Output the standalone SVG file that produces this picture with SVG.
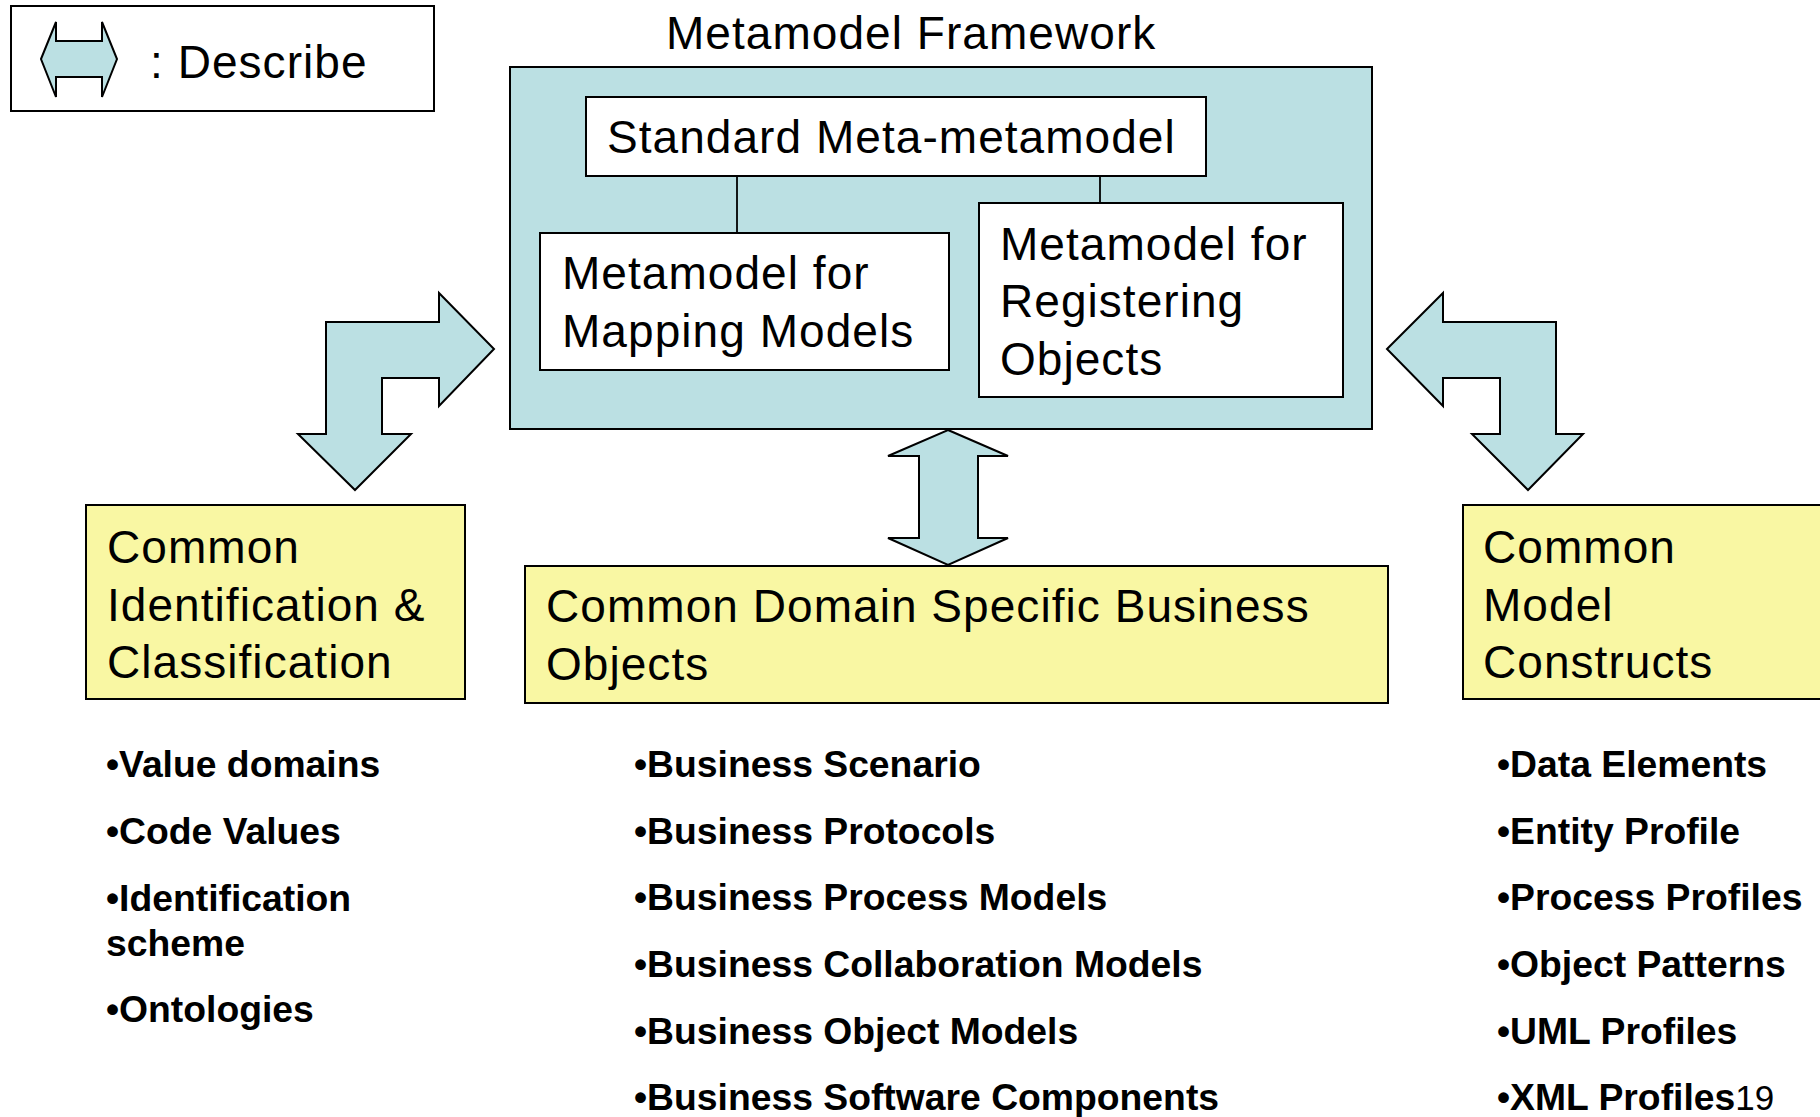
<svg xmlns="http://www.w3.org/2000/svg" width="1820" height="1117" viewBox="0 0 1820 1117">
<style>
.big{font-family:"Liberation Sans",Arial,sans-serif;font-size:46px;letter-spacing:1.05px;fill:#000}
.bul{font-family:"Liberation Sans",Arial,sans-serif;font-size:37.3px;font-weight:bold;fill:#000}
.box{stroke:#000;stroke-width:2}
.blue{fill:#BBE0E3}
.white{fill:#FFFFFF}
.yellow{fill:#F9F7A3}
.arrow{fill:#BBE0E3;stroke:#000;stroke-width:2;stroke-linejoin:miter}
.line{stroke:#000;stroke-width:1.8;fill:none}
</style>
<rect x="0" y="0" width="1820" height="1117" fill="#FFFFFF"/>
<g id="legend">
<rect class="box white" x="11" y="6" width="423" height="105"/>
<polygon class="arrow" points="41,59 56,22 56,41 102,41 102,22 117,59 102,97 102,77 56,77 56,97"/>
<text class="big" x="150" y="78">: Describe</text>
</g>
<text id="title" class="big" x="666" y="49">Metamodel Framework</text>
<g id="framework">
<rect class="box blue" x="510" y="67" width="862" height="362"/>
</g>
<g id="meta-metamodel">
<rect class="box white" x="586" y="97" width="620" height="79"/>
<text class="big" x="607" y="153">Standard Meta-metamodel</text>
</g>
<g id="mapping">
<rect class="box white" x="540" y="233" width="409" height="137"/>
<text class="big" x="562" y="289">Metamodel for</text>
<text class="big" x="562" y="347">Mapping Models</text>
</g>
<g id="registering">
<rect class="box white" x="979" y="203" width="364" height="194"/>
<text class="big" x="1000" y="260">Metamodel for</text>
<text class="big" x="1000" y="317">Registering</text>
<text class="big" x="1000" y="375">Objects</text>
</g>
<g id="identification">
<rect class="box yellow" x="86" y="505" width="379" height="194"/>
<text class="big" x="107" y="563">Common</text>
<text class="big" x="107" y="621">Identification &amp;</text>
<text class="big" x="107" y="678">Classification</text>
</g>
<g id="business-objects">
<rect class="box yellow" x="525" y="566" width="863" height="137"/>
<text class="big" x="546" y="622">Common Domain Specific Business</text>
<text class="big" x="546" y="680">Objects</text>
</g>
<g id="model-constructs">
<rect class="box yellow" x="1463" y="505" width="370" height="194"/>
<text class="big" x="1483" y="563">Common</text>
<text class="big" x="1483" y="621">Model</text>
<text class="big" x="1483" y="678">Constructs</text>
</g>
<g id="connectors">
<line class="line" x1="737" y1="176" x2="737" y2="233"/>
<line class="line" x1="1100" y1="176" x2="1100" y2="203"/>
<polygon class="arrow" points="326,322 439,322 439,293 494,349 439,406 439,378 382,378 382,434 411,434 355,490 298,434 326,434"/>
<polygon class="arrow" points="1387,349 1443,293 1443,322 1556,322 1556,434 1583,434 1528,490 1472,434 1500,434 1500,378 1443,378 1443,406"/>
<polygon class="arrow" points="948,430 1008,456 978,456 978,538 1008,538 948,565 888,538 919,538 919,456 888,456"/>
</g>
<g id="list-identification">
<text class="bul" x="106" y="777">•Value domains</text>
<text class="bul" x="106" y="844">•Code Values</text>
<text class="bul" x="106" y="911">•Identification</text>
<text class="bul" x="106" y="956">scheme</text>
<text class="bul" x="106" y="1022">•Ontologies</text>
</g>
<g id="list-business">
<text class="bul" x="634" y="777">•Business Scenario</text>
<text class="bul" x="634" y="844">•Business Protocols</text>
<text class="bul" x="634" y="910">•Business Process Models</text>
<text class="bul" x="634" y="977">•Business Collaboration Models</text>
<text class="bul" x="634" y="1044">•Business Object Models</text>
<text class="bul" x="634" y="1110">•Business Software Components</text>
</g>
<g id="list-constructs">
<text class="bul" x="1497" y="777">•Data Elements</text>
<text class="bul" x="1497" y="844">•Entity Profile</text>
<text class="bul" x="1497" y="910">•Process Profiles</text>
<text class="bul" x="1497" y="977">•Object Patterns</text>
<text class="bul" x="1497" y="1044">•UML Profiles</text>
<text class="bul" x="1497" y="1110">•XML Profiles<tspan font-weight="normal" font-size="35">19</tspan></text>
</g>
</svg>
